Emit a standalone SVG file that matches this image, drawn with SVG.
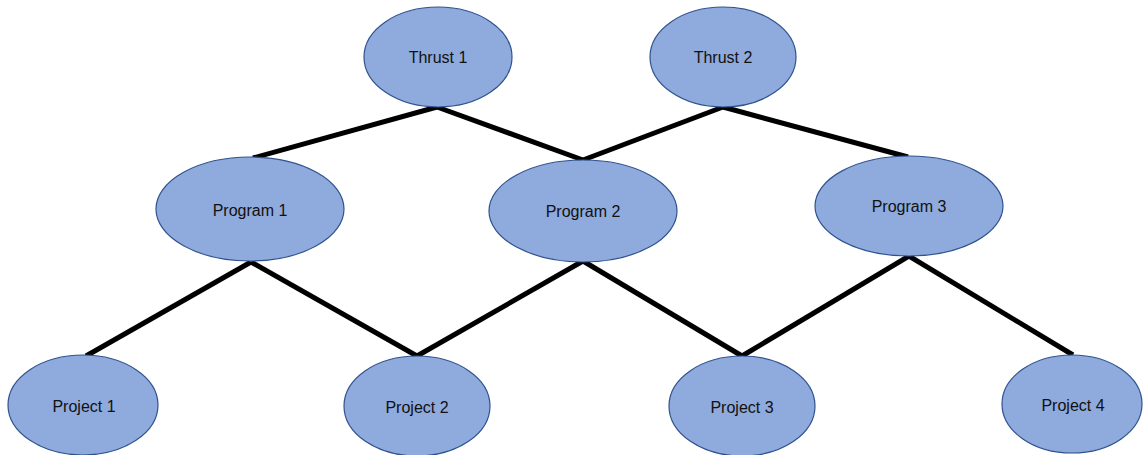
<svg xmlns="http://www.w3.org/2000/svg" width="1143" height="455" viewBox="0 0 1143 455">
<style>
.node ellipse{fill:#8faadc;stroke:#2f528f;stroke-width:1.2}
.node text{font-family:"Liberation Sans",Arial,sans-serif;font-size:16px;fill:#111;text-anchor:middle;dominant-baseline:central}
.edges line{stroke:#000;stroke-width:5;stroke-linecap:butt}
</style>
<rect width="1143" height="455" fill="#fff"/>
<g class="edges">
<line x1="437" y1="107" x2="253" y2="158"/>
<line x1="437" y1="107" x2="583" y2="160"/>
<line x1="723" y1="107" x2="583" y2="160"/>
<line x1="723" y1="107" x2="908" y2="157"/>
<line x1="251" y1="262" x2="86" y2="356"/>
<line x1="251" y1="262" x2="417" y2="356"/>
<line x1="583" y1="261" x2="417" y2="356"/>
<line x1="583" y1="261" x2="742" y2="356"/>
<line x1="909" y1="256" x2="742" y2="356"/>
<line x1="909" y1="256" x2="1073" y2="355"/>
</g>
<g id="thrust1" class="node"><ellipse cx="438" cy="57" rx="74" ry="50"/><text x="438" y="57">Thrust 1</text></g>
<g id="thrust2" class="node"><ellipse cx="723" cy="57" rx="73" ry="50"/><text x="723" y="57">Thrust 2</text></g>
<g id="program1" class="node"><ellipse cx="250" cy="209" rx="94" ry="52"/><text x="250" y="210">Program 1</text></g>
<g id="program2" class="node"><ellipse cx="583" cy="211" rx="94" ry="51"/><text x="583" y="211">Program 2</text></g>
<g id="program3" class="node"><ellipse cx="909" cy="206" rx="94" ry="50"/><text x="909" y="206">Program 3</text></g>
<g id="project1" class="node"><ellipse cx="83" cy="405" rx="75" ry="50"/><text x="84" y="406">Project 1</text></g>
<g id="project2" class="node"><ellipse cx="417" cy="406" rx="73" ry="50"/><text x="417" y="407">Project 2</text></g>
<g id="project3" class="node"><ellipse cx="742" cy="406" rx="73" ry="50"/><text x="742" y="407">Project 3</text></g>
<g id="project4" class="node"><ellipse cx="1072" cy="404" rx="70" ry="49"/><text x="1073" y="405">Project 4</text></g>
</svg>
